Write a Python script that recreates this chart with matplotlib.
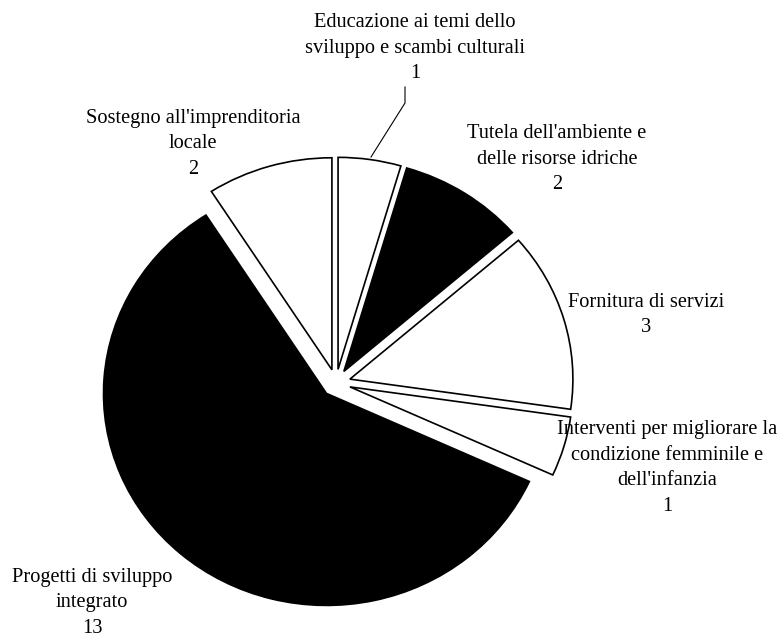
import matplotlib
matplotlib.use("Agg")
import matplotlib.pyplot as plt

categories = [
    "Educazione ai temi dello\nsviluppo e scambi culturali",
    "Tutela dell'ambiente e\ndelle risorse idriche",
    "Fornitura di servizi",
    "Interventi per migliorare la\ncondizione femminile e\ndell'infanzia",
    "Progetti di sviluppo\nintegrato",
    "Sostegno all'imprenditoria\nlocale",
]
values = [1, 2, 3, 1, 13, 2]
colors = ["white", "black", "white", "white", "black", "white"]

plt.rcParams['font.family'] = ['Liberation Serif', 'DejaVu Serif']

W, H = 784, 641
fig = plt.figure(figsize=(W / 100, H / 100), dpi=100)
ax = fig.add_axes([0, 0, 1, 1])

CX, CY, RX, RY = 336, 383, 223, 212

def d(px, py):
    return ((px - CX) / RX, (CY - py) / RY)

ax.pie(values, colors=colors, startangle=90, counterclock=False,
       explode=[0.065] * len(values),
       wedgeprops=dict(edgecolor="black", linewidth=1.2))
ax.set_aspect('auto')
x0, _ = d(0, 0)
x1, _ = d(W, 0)
_, y0 = d(0, H)
_, y1 = d(0, 0)
ax.set_xlim(x0, x1)
ax.set_ylim(y0, y1)
ax.axis('off')

label_pos = [
    (415, 48),
    (557, 159),
    (646, 315),
    (667, 468),
    (92, 603),
    (193, 144),
]
for cat, val, (px, py) in zip(categories, values, label_pos):
    x, y = d(px, py)
    ax.text(x, y, f"{cat}\n{val}", ha="center", va="center", fontsize=14.7,
            linespacing=1.46, color="black")

# leader line for the first label
lx = [d(405, 87)[0], d(405, 103)[0], d(371, 157)[0]]
ly = [d(405, 87)[1], d(405, 103)[1], d(371, 157)[1]]
ax.plot(lx, ly, color="black", linewidth=0.8)

fig.savefig("out.png", dpi=100)
